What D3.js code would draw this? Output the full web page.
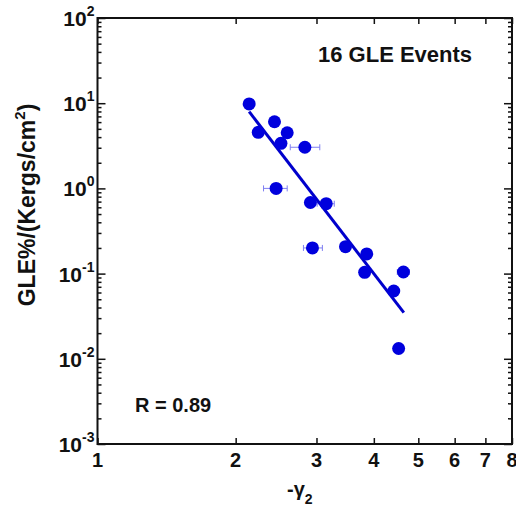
<!DOCTYPE html>
<html>
<head>
<meta charset="utf-8">
<script src="https://cdn.jsdelivr.net/npm/d3@7"></script>
<style>
  body { margin: 0; background: #fff; }
  text { font-family: "Liberation Sans", Arial, Helvetica, sans-serif; font-weight: bold; fill: #111; }
</style>
</head>
<body>
<svg id="chart" width="516" height="510"></svg>
<script>
// spectral index (-gamma2) vs GLE% per unit fluence, 16 events
const gamma2 = [2.14, 2.43, 2.24, 2.59, 2.51, 2.83, 2.45, 2.91, 3.15, 2.94, 3.47, 3.86, 3.82, 4.64, 4.42, 4.53];
const gleRatio = [9.8, 6.06, 4.55, 4.5, 3.38, 3.04, 1.0, 0.683, 0.661, 0.2, 0.207, 0.17, 0.1035, 0.1044, 0.0625, 0.0132];
// horizontal error bars (null = none drawn)
const gammaLo = [null, null, null, null, null, 2.63, 2.30, null, 3.01, 2.81, null, null, null, 4.50, null, null];
const gammaHi = [null, null, null, null, null, 3.05, 2.59, null, 3.28, 3.09, null, null, null, 4.78, null, null];

// power-law fit end points
const fitGamma = [2.14, 4.65];
const fitRatio = [7.95, 0.0348];

const xTickValues = [1, 2, 3, 4, 5, 6, 7, 8];
const yTickExponents = [-3, -2, -1, 0, 1, 2];

const title = '16 GLE Events';
const corrLabel = 'R = 0.89';

const svg = d3.select('#chart');
const mLeft = 97.5, mRight = 512, mTop = 18, mBottom = 444;

const x = d3.scaleLog().domain([1, 8]).range([mLeft, mRight]);
const y = d3.scaleLog().domain([1e-3, 1e2]).range([mBottom, mTop]);

const data = gamma2.map((g, i) => ({ g, r: gleRatio[i], lo: gammaLo[i], hi: gammaHi[i] }));

// minor ticks on both y sides
const yMinor = y.ticks().filter(v => !yTickExponents.some(e => Math.abs(v - Math.pow(10, e)) < 1e-12));
const yMajor = yTickExponents.map(e => Math.pow(10, e));

const axisG = svg.append('g');
const styleAxis = (g) => {
  g.select('.domain').remove();
  g.selectAll('.tick line').attr('stroke', '#111').attr('stroke-width', 1.5);
  g.selectAll('.tick text').remove();
};

axisG.append('g').attr('transform', `translate(${mLeft},0)`)
  .call(d3.axisLeft(y).tickValues(yMinor).tickSize(-4)).call(styleAxis);
axisG.append('g').attr('transform', `translate(${mLeft},0)`)
  .call(d3.axisLeft(y).tickValues(yMajor).tickSize(-8)).call(styleAxis);
axisG.append('g').attr('transform', `translate(${mRight},0)`)
  .call(d3.axisRight(y).tickValues(yMinor).tickSize(-4)).call(styleAxis);
axisG.append('g').attr('transform', `translate(${mRight},0)`)
  .call(d3.axisRight(y).tickValues(yMajor).tickSize(-8)).call(styleAxis);
axisG.append('g').attr('transform', `translate(0,${mBottom})`)
  .call(d3.axisBottom(x).tickValues(xTickValues).tickSize(-6)).call(styleAxis);
axisG.append('g').attr('transform', `translate(0,${mTop})`)
  .call(d3.axisTop(x).tickValues(xTickValues).tickSize(-6)).call(styleAxis);

// frame
svg.append('rect')
  .attr('x', mLeft).attr('y', mTop)
  .attr('width', mRight - mLeft).attr('height', mBottom - mTop)
  .attr('fill', 'none').attr('stroke', '#111').attr('stroke-width', 2);

// y tick labels 10^n
const yLab = svg.append('g').selectAll('text').data(yTickExponents).enter().append('text')
  .attr('x', mLeft - 3).attr('y', e => y(Math.pow(10, e)) + 8)
  .attr('text-anchor', 'end').style('font-size', '21px');
yLab.append('tspan').text('10');
yLab.append('tspan').attr('dy', -10).style('font-size', '14px').text(e => e);

// x tick labels
svg.append('g').selectAll('text').data(xTickValues).enter().append('text')
  .attr('x', d => x(d)).attr('y', 467)
  .attr('text-anchor', 'middle').style('font-size', '20px')
  .text(d => d);

// error bars
const eb = svg.append('g').attr('stroke', '#5555ee').attr('stroke-width', 1).attr('opacity', 0.75)
  .selectAll('g').data(data.filter(d => d.lo !== null)).enter().append('g');
eb.append('line').attr('x1', d => x(d.lo)).attr('x2', d => x(d.hi))
  .attr('y1', d => y(d.r)).attr('y2', d => y(d.r));
eb.append('line').attr('x1', d => x(d.lo)).attr('x2', d => x(d.lo))
  .attr('y1', d => y(d.r) - 3).attr('y2', d => y(d.r) + 3);
eb.append('line').attr('x1', d => x(d.hi)).attr('x2', d => x(d.hi))
  .attr('y1', d => y(d.r) - 3).attr('y2', d => y(d.r) + 3);

// fit line
svg.append('path')
  .datum(fitGamma.map((g, i) => [g, fitRatio[i]]))
  .attr('d', d3.line().x(d => x(d[0])).y(d => y(d[1])))
  .attr('fill', 'none').attr('stroke', '#0000cc').attr('stroke-width', 3);

// points
svg.append('g').selectAll('circle').data(data).enter().append('circle')
  .attr('cx', d => x(d.g)).attr('cy', d => y(d.r)).attr('r', 6.5)
  .attr('fill', '#0000dd');

// annotations
svg.append('text').attr('x', 318).attr('y', 62).style('font-size', '22px').text(title);
svg.append('text').attr('x', 135).attr('y', 412).style('font-size', '20px').text(corrLabel);

// axis titles
const xt = svg.append('text').attr('x', 287).attr('y', 496).style('font-size', '20px');
xt.append('tspan').text('-γ');
xt.append('tspan').attr('dy', 8).style('font-size', '14px').text('2');

const yt = svg.append('text')
  .attr('transform', `translate(35,${(mTop + mBottom) / 2 - 26}) rotate(-90)`)
  .attr('text-anchor', 'middle').style('font-size', '23px');
yt.append('tspan').text('GLE%/(Kergs/cm');
yt.append('tspan').attr('dy', -10).style('font-size', '15px').text('2');
yt.append('tspan').attr('dy', 10).text(')');
</script>
</body>
</html>
